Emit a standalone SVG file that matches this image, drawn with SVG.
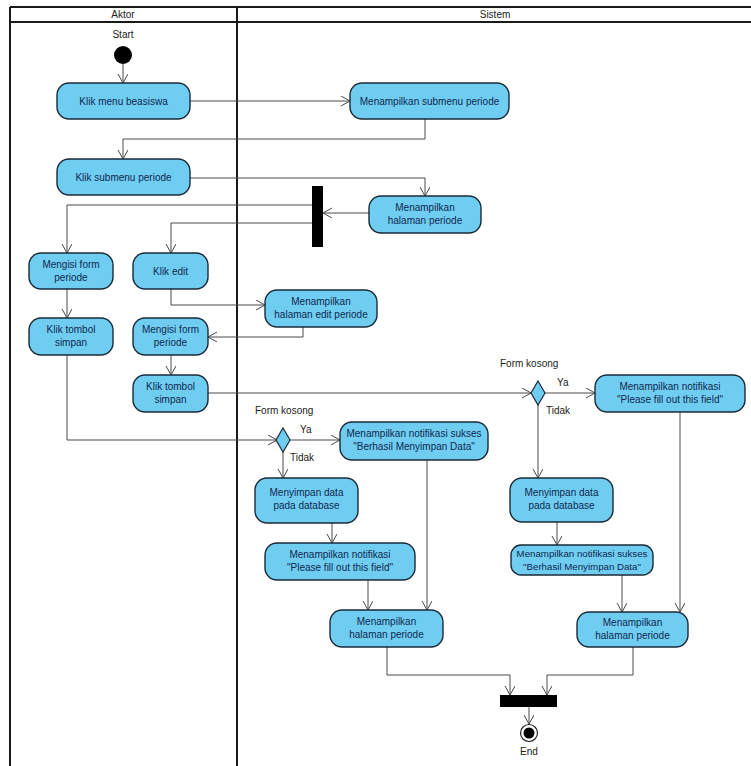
<svg xmlns="http://www.w3.org/2000/svg" width="751" height="766" viewBox="0 0 751 766">
<defs>
<style>
.frame{fill:none;stroke:#1a1a1a;stroke-width:2}
.node rect{fill:#6fcdf2;stroke:#1b2a38;stroke-width:1.4}
.node text,.lbl{font-family:"Liberation Sans",Arial,sans-serif;font-size:10px;fill:#10284f;text-anchor:middle}
.node text.sm{font-size:9.7px}
.lbl{fill:#222}
.lblL{font-family:"Liberation Sans",Arial,sans-serif;font-size:10px;fill:#222}
.bar{fill:#000}
.dec{fill:#6fcdf2;stroke:#1b2a38;stroke-width:1.2}
.edge{fill:none;stroke:#4a4a4a;stroke-width:1;marker-end:url(#arr)}
</style>
<marker id="arr" markerUnits="userSpaceOnUse" markerWidth="12" markerHeight="12" refX="9" refY="5" orient="auto">
<path d="M0,0 L9,5 L0,10" fill="none" stroke="#4a4a4a" stroke-width="1"/>
</marker>
</defs>
<rect width="751" height="766" fill="#fff"/>
<g id="swimlanes">
<line class="frame" x1="10" y1="7" x2="751" y2="7"/>
<line class="frame" x1="10" y1="22" x2="751" y2="22"/>
<line class="frame" x1="10" y1="7" x2="10" y2="766"/>
<line class="frame" x1="237" y1="7" x2="237" y2="766"/>
<text class="lbl" x="123" y="18">Aktor</text>
<text class="lbl" x="495" y="18">Sistem</text>
</g>
<g id="connectors">
<path class="edge" d="M123,64 V83"/>
<path class="edge" d="M190,101 H350"/>
<path class="edge" d="M425,119 V139 H123 V159"/>
<path class="edge" d="M190,178 H425 V196"/>
<path class="edge" d="M369,213 H323"/>
<path class="edge" d="M312,205 H67 V253"/>
<path class="edge" d="M312,223 H171 V253"/>
<path class="edge" d="M67,289 V318"/>
<path class="edge" d="M171,289 V305 H265"/>
<path class="edge" d="M303,327 V337 H208"/>
<path class="edge" d="M171,355 V375"/>
<path class="edge" d="M208,393 H531"/>
<path class="edge" d="M545,393 H595"/>
<path class="edge" d="M538,405 V478"/>
<path class="edge" d="M557,522 V545"/>
<path class="edge" d="M622,575 V612"/>
<path class="edge" d="M680,412 V612"/>
<path class="edge" d="M633,647 V675 H547 V695"/>
<path class="edge" d="M67,355 V440 H277"/>
<path class="edge" d="M290,440 H340"/>
<path class="edge" d="M283,452 V478"/>
<path class="edge" d="M332,523 V543"/>
<path class="edge" d="M368,580 V610"/>
<path class="edge" d="M427,460 V610"/>
<path class="edge" d="M387,647 V675 H510 V695"/>
<path class="edge" d="M529,707 V724"/>
</g>
<g id="start">
<text class="lbl" x="123" y="38">Start</text>
<circle cx="123" cy="55" r="9" fill="#000"/>
</g>
<g id="klik-menu-beasiswa" class="node">
<rect x="57" y="83" width="133" height="36" rx="12"/>
<text x="123.5" y="104.5">Klik menu beasiswa</text>
</g>
<g id="menampilkan-submenu" class="node">
<rect x="350" y="83" width="159" height="36" rx="12"/>
<text x="429.5" y="104.5">Menampilkan submenu periode</text>
</g>
<g id="klik-submenu" class="node">
<rect x="57" y="159" width="133" height="36" rx="12"/>
<text x="123.5" y="180.5">Klik submenu periode</text>
</g>
<g id="menampilkan-halaman-1" class="node">
<rect x="369" y="196" width="112" height="37" rx="12"/>
<text x="425" y="211">Menampilkan</text>
<text x="425" y="224">halaman periode</text>
</g>
<g id="fork">
<rect class="bar" x="312" y="186" width="11" height="61"/>
</g>
<g id="mengisi-form-1" class="node">
<rect x="29" y="253" width="84" height="36" rx="12"/>
<text x="71" y="268">Mengisi form</text>
<text x="71" y="281">periode</text>
</g>
<g id="klik-edit" class="node">
<rect x="133" y="253" width="75" height="36" rx="12"/>
<text x="170.5" y="274.5">Klik edit</text>
</g>
<g id="menampilkan-edit" class="node">
<rect x="265" y="290" width="112" height="37" rx="12"/>
<text x="321" y="305">Menampilkan</text>
<text x="321" y="318">halaman edit periode</text>
</g>
<g id="klik-simpan-1" class="node">
<rect x="29" y="318" width="84" height="37" rx="12"/>
<text x="71" y="333">Klik tombol</text>
<text x="71" y="346">simpan</text>
</g>
<g id="mengisi-form-2" class="node">
<rect x="133" y="318" width="75" height="37" rx="12"/>
<text x="170.5" y="333">Mengisi form</text>
<text x="170.5" y="346">periode</text>
</g>
<g id="klik-simpan-2" class="node">
<rect x="133" y="375" width="75" height="37" rx="12"/>
<text x="170.5" y="390">Klik tombol</text>
<text x="170.5" y="403">simpan</text>
</g>
<g id="decision-right">
<path class="dec" d="M538,381 L545,393 L538,405 L531,393 Z"/>
<text class="lblL" x="500" y="367">Form kosong</text>
<text class="lblL" x="557" y="386">Ya</text>
<text class="lblL" x="546" y="414">Tidak</text>
</g>
<g id="notif-please-right" class="node">
<rect x="595" y="375" width="150" height="37" rx="12"/>
<text x="670" y="390">Menampilkan notifikasi</text>
<text x="670" y="403">"Please fill out this field"</text>
</g>
<g id="menyimpan-right" class="node">
<rect x="510" y="478" width="103" height="44" rx="12"/>
<text x="561.5" y="496">Menyimpan data</text>
<text x="561.5" y="509">pada database</text>
</g>
<g id="notif-sukses-right" class="node">
<rect x="511" y="545" width="142" height="30" rx="10"/>
<text class="sm" x="582" y="557">Menampilkan notifikasi sukses</text>
<text class="sm" x="582" y="570">"Berhasil Menyimpan Data"</text>
</g>
<g id="halaman-right" class="node">
<rect x="577" y="612" width="111" height="35" rx="12"/>
<text x="632.5" y="626">Menampilkan</text>
<text x="632.5" y="639">halaman periode</text>
</g>
<g id="decision-left">
<path class="dec" d="M283,428 L290,440 L283,452 L276,440 Z"/>
<text class="lblL" x="255" y="414">Form kosong</text>
<text class="lblL" x="300" y="433">Ya</text>
<text class="lblL" x="290" y="461">Tidak</text>
</g>
<g id="notif-sukses-left" class="node">
<rect x="340" y="422" width="148" height="38" rx="12"/>
<text x="414" y="437">Menampilkan notifikasi sukses</text>
<text x="414" y="450">"Berhasil Menyimpan Data"</text>
</g>
<g id="menyimpan-left" class="node">
<rect x="255" y="478" width="103" height="45" rx="12"/>
<text x="306.5" y="496">Menyimpan data</text>
<text x="306.5" y="509">pada database</text>
</g>
<g id="notif-please-left" class="node">
<rect x="265" y="543" width="150" height="37" rx="12"/>
<text x="340" y="558">Menampilkan notifikasi</text>
<text x="340" y="571">"Please fill out this field"</text>
</g>
<g id="halaman-left" class="node">
<rect x="330" y="610" width="113" height="37" rx="12"/>
<text x="386.5" y="625">Menampilkan</text>
<text x="386.5" y="638">halaman periode</text>
</g>
<g id="join">
<rect class="bar" x="500" y="695" width="57" height="12"/>
</g>
<g id="end">
<circle cx="529" cy="733" r="8.5" fill="#fff" stroke="#222" stroke-width="1.2"/>
<circle cx="529" cy="733" r="5.5" fill="#000"/>
<text class="lbl" x="529" y="755">End</text>
</g>
</svg>
